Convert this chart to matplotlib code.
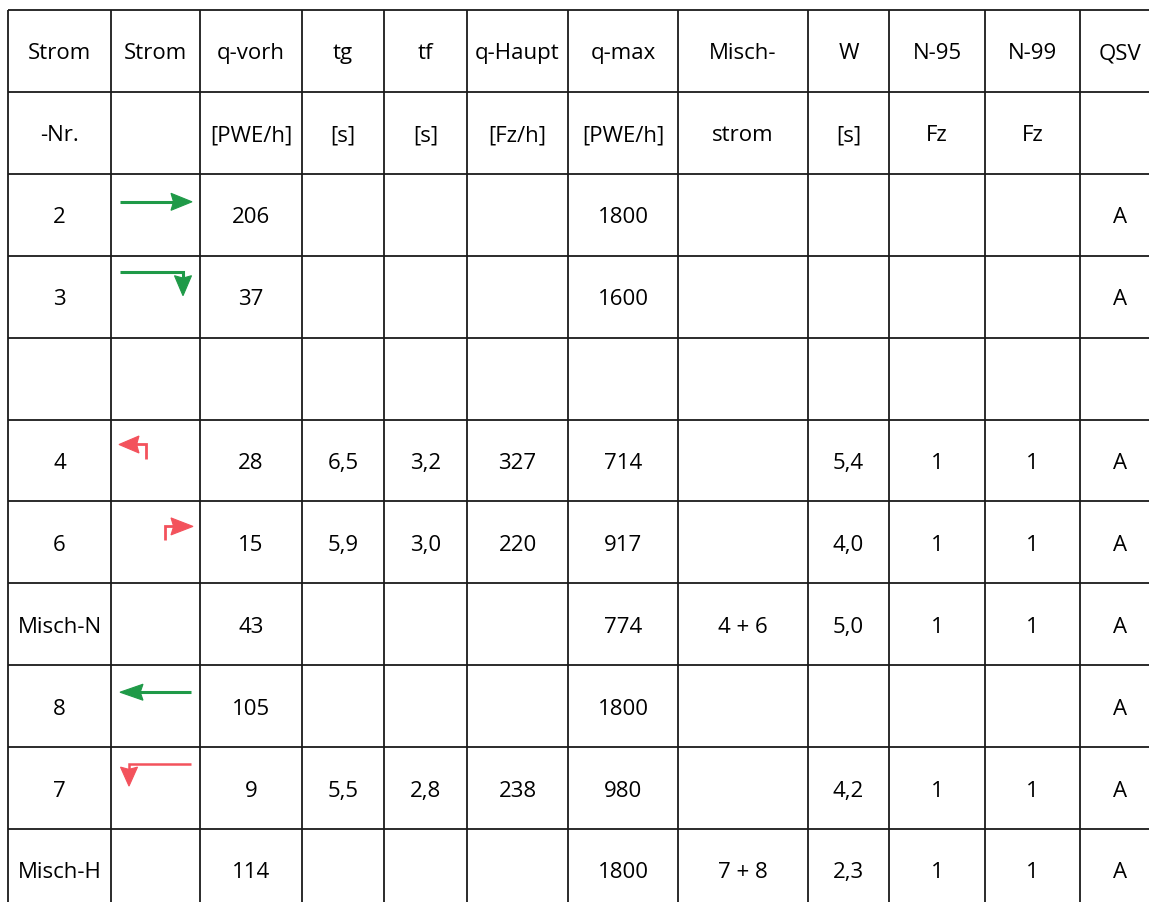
import matplotlib
matplotlib.use("Agg")
import matplotlib.pyplot as plt
from matplotlib.patches import Polygon

plt.rcParams['font.family'] = ['Open Sans', 'DejaVu Sans']

# ---- data ----
header1 = ['Strom', 'Strom', 'q-vorh', 'tg', 'tf', 'q-Haupt', 'q-max', 'Misch-', 'W', 'N-95', 'N-99', 'QSV']
header2 = ['-Nr.', '', '[PWE/h]', '[s]', '[s]', '[Fz/h]', '[PWE/h]', 'strom', '[s]', 'Fz', 'Fz', '']

strom_nr = ['2', '3', '', '4', '6', 'Misch-N', '8', '7', 'Misch-H']
strom_dir = ['right', 'right_down', '', 'left_up', 'up_right', '', 'left', 'left_down', '']
q_vorh = ['206', '37', '', '28', '15', '43', '105', '9', '114']
tg = ['', '', '', '6,5', '5,9', '', '', '5,5', '']
tf = ['', '', '', '3,2', '3,0', '', '', '2,8', '']
q_haupt = ['', '', '', '327', '220', '', '', '238', '']
q_max = ['1800', '1600', '', '714', '917', '774', '1800', '980', '1800']
misch = ['', '', '', '', '', '4 + 6', '', '', '7 + 8']
w_val = ['', '', '', '5,4', '4,0', '5,0', '', '4,2', '2,3']
n95 = ['', '', '', '1', '1', '1', '', '1', '1']
n99 = ['', '', '', '1', '1', '1', '', '1', '1']
qsv = ['A', 'A', '', 'A', 'A', 'A', 'A', 'A', 'A']

columns = [strom_nr, None, q_vorh, tg, tf, q_haupt, q_max, misch, w_val, n95, n99, qsv]

# ---- layout (pixels) ----
W, H = 1149, 903
col_edges = [8, 111, 200, 302, 384, 467, 568, 678, 808, 889, 985, 1080, 1160]
row_top = 11
row_h = 81.9
n_rows = 2 + len(strom_nr)
row_edges = [row_top + i * row_h for i in range(n_rows + 1)]

GREEN = '#1f9a48'
RED = '#f3525c'

fig = plt.figure(figsize=(W / 100, H / 100), dpi=100)
ax = fig.add_axes([0, 0, 1, 1])
ax.set_xlim(0, W)
ax.set_ylim(H, 0)
ax.axis('off')

# grid
for x in col_edges:
    ax.plot([x, x], [row_edges[0], row_edges[-1]], color='#1a1a1a', lw=1.3, solid_capstyle='butt')
for y in row_edges:
    ax.plot([col_edges[0], col_edges[-1]], [y, y], color='#1a1a1a', lw=1.3, solid_capstyle='butt')

FS = 16


def put_text(ci, ri, s):
    if not s:
        return
    xc = (col_edges[ci] + col_edges[ci + 1]) / 2
    yc = (row_edges[ri] + row_edges[ri + 1]) / 2
    ax.text(xc, yc + 7.5, s, ha='center', va='baseline', fontsize=FS, color='#000000')


for ci, s in enumerate(header1):
    put_text(ci, 0, s)
for ci, s in enumerate(header2):
    put_text(ci, 1, s)
for ci, col in enumerate(columns):
    if col is None:
        continue
    for ri, s in enumerate(col):
        put_text(ci, ri + 2, s)


# arrows: shapes relative to the cell's top-left corner
ARROWS = {
    'right':      dict(color=GREEN, shaft=[(9, 28), (64, 28)], tip=(81, 28), base=(60, 28), hw=8.5, lw=2.2),
    'right_down': dict(color=GREEN, shaft=[(9, 16), (72, 16), (72, 24)], tip=(72, 40), base=(72, 20), hw=8.5, lw=2.2),
    'left_up':    dict(color=RED, shaft=[(35, 39), (35, 24), (24, 24)], tip=(8, 25), base=(28, 25), hw=8.5, lw=2.0),
    'up_right':   dict(color=RED, shaft=[(54, 39), (54, 25), (64, 25)], tip=(82, 25), base=(60, 25), hw=8.5, lw=2.0),
    'left':       dict(color=GREEN, shaft=[(80, 27), (26, 27)], tip=(9, 27), base=(32, 27), hw=8.0, lw=2.2),
    'left_down':  dict(color=RED, shaft=[(80, 17), (18, 17), (18, 25)], tip=(18, 39), base=(18, 20), hw=8.5, lw=1.8),
}
NOTCH = 0.12  # fraction of head length for the barbed back edge


def draw_arrow(kind, x0, y0):
    a = ARROWS[kind]
    xs = [x0 + p[0] for p in a['shaft']]
    ys = [y0 + p[1] for p in a['shaft']]
    ax.plot(xs, ys, color=a['color'], lw=a['lw'], solid_joinstyle='miter', solid_capstyle='butt')
    tx, ty = x0 + a['tip'][0], y0 + a['tip'][1]
    bx, by = x0 + a['base'][0], y0 + a['base'][1]
    hw = a['hw']
    nx, ny = bx + (tx - bx) * NOTCH, by + (ty - by) * NOTCH
    if ty == by:  # horizontal
        pts = [(tx, ty), (bx, by - hw), (nx, ny), (bx, by + hw)]
    else:
        pts = [(tx, ty), (bx - hw, by), (nx, ny), (bx + hw, by)]
    ax.add_patch(Polygon(pts, closed=True, facecolor=a['color'], edgecolor=a['color'], lw=0.8))


for ri, kind in enumerate(strom_dir):
    if kind:
        draw_arrow(kind, col_edges[1], row_edges[ri + 2])

fig.savefig('out.png', dpi=100, facecolor='white')
